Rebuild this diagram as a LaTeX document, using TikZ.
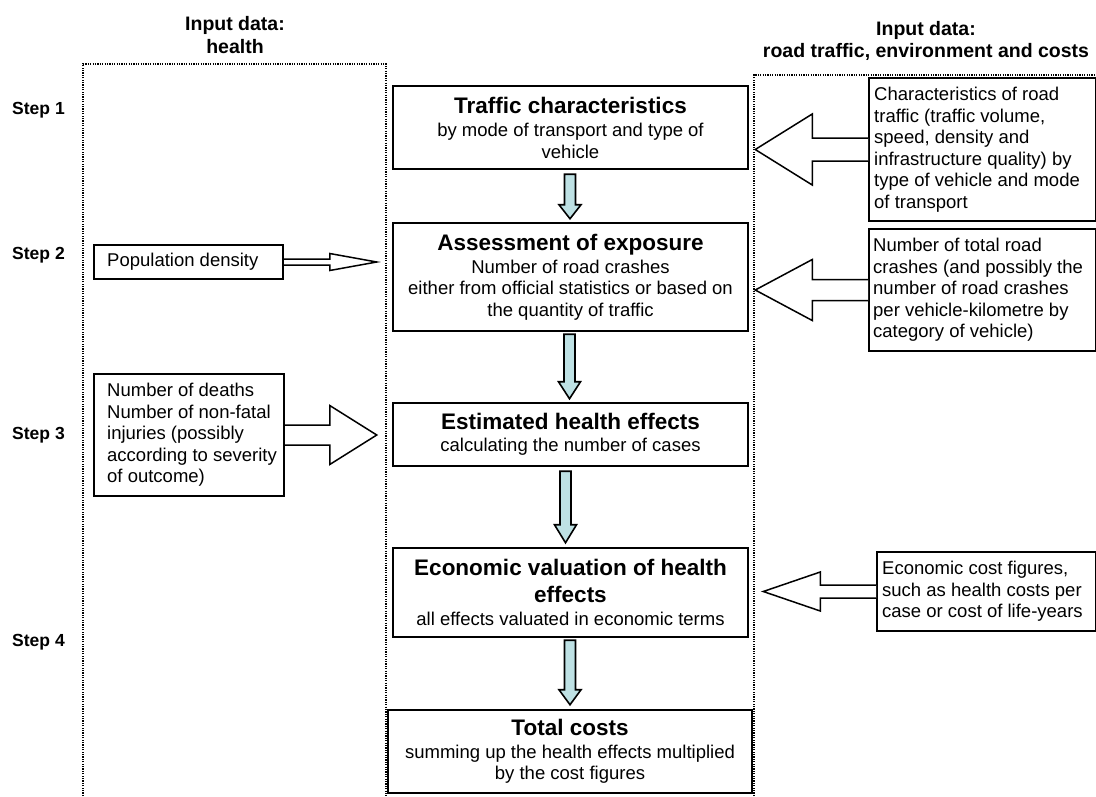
\documentclass[tikz,border=0pt]{standalone}
\usepackage{fontspec}
\setmainfont{Liberation Sans}
\usetikzlibrary{calc}
\definecolor{arrowblue}{RGB}{190,225,228}
\newcommand{\bodyfont}{\fontsize{18.5}{21.5}\selectfont}
\newcommand{\headfont}{\fontsize{22.5}{25}\selectfont\bfseries}
\newcommand{\titlefont}{\fontsize{19.5}{22.5}\selectfont\bfseries}
\newcommand{\stepfont}{\fontsize{17.5}{20}\selectfont\bfseries}
% hollow side arrow: #1 start, #2 tip, #3 shaft half, #4 head half, #5 signed head length
\newcommand{\hollowarrow}[5]{%
  \draw[harrowline] let \p1=#1, \p2=#2 in
    (\x1,\y2+#3) -- (\x2+#5,\y2+#3) -- (\x2+#5,\y2+#4) -- (\x2,\y2)
    -- (\x2+#5,\y2-#4) -- (\x2+#5,\y2-#3) -- (\x1,\y2-#3);}
% blue down arrow: #1 from anchor, #2 to anchor, #3 top gap, #4 tip gap, #5 head length, #6 x offset
\newcommand{\bluearrow}[6]{%
  \draw[barrowline] let \p1=#1, \p2=#2 in
    (\x1+#6-5.5pt,\y1-#3) -- (\x1+#6-5.5pt,\y2+#4+#5) -- (\x1+#6-11pt,\y2+#4+#5)
    -- (\x1+#6,\y2+#4) -- (\x1+#6+11pt,\y2+#4+#5) -- (\x1+#6+5.5pt,\y2+#4+#5)
    -- (\x1+#6+5.5pt,\y1-#3) -- cycle;}
\begin{document}
\begin{tikzpicture}[x=1pt,y=-1pt,
  cbox/.style={draw, fill=white, line width=2.5pt, align=center, inner sep=0pt,
    font=\bodyfont, minimum width=355pt},
  sidebox/.style={draw, fill=white, line width=2pt, inner sep=0pt, anchor=north west},
  sidetext/.style={align=left, inner sep=0pt, anchor=west, font=\bodyfont},
  title/.style={align=center, font=\titlefont, inner sep=0pt},
  steplabel/.style={font=\stepfont, inner sep=0pt},
  frame/.style={line width=1.4pt, dash pattern=on 1.2pt off 1.2pt},
  harrowline/.style={draw, fill=white, line width=1.5pt, line join=miter},
  barrowline/.style={draw, fill=arrowblue, line width=1.6pt, line join=miter}]
\useasboundingbox (0,0) rectangle (1096,796);

% dotted frames
\draw[frame] (83,796) -- (83,64) -- (386,64) -- (386,796);
\draw[frame] (754,796) -- (754,75) -- (1096,75);

% titles
\node[title] (t1) at (235,35) {Input data:\\health};
\node[title] (t2) at (926,41) {Input data:\\road traffic, environment and costs};

% steps
\node[steplabel] (s1) at (38.5,110) {Step 1};
\node[steplabel] (s2) at (38.5,255) {Step 2};
\node[steplabel] (s3) at (38.5,435) {Step 3};
\node[steplabel] (s4) at (38.5,642) {Step 4};

% central boxes
\node[cbox, minimum height=83pt] (b1) at (570.5,127.5)
  {{\headfont Traffic characteristics}\\[2pt]by mode of transport and type of\\vehicle};
\node[cbox, minimum height=108pt] (b2) at (570.5,277)
  {{\headfont Assessment of exposure}\\[1.5pt]Number of road crashes\\either from official statistics or based on\\the quantity of traffic};
\node[cbox, minimum height=63pt] (b3) at (570.5,434.5)
  {{\headfont Estimated health effects}\\[1pt]calculating the number of cases};
\node[cbox, minimum height=89pt] (b4) at (570.5,592.5)
  {{\headfont Economic valuation of health}\\[5.5pt]{\headfont effects}\\[1.5pt]all effects valuated in economic terms};
\node[cbox, minimum width=364pt, minimum height=83pt] (b5) at (570,751.5)
  {{\headfont Total costs}\\[1pt]summing up the health effects multiplied\\by the cost figures};

% right boxes
\node[sidebox, minimum width=227pt, minimum height=143pt] (r1) at (868,77) {};
\node[sidetext] (r1t) at ($(r1.west)+(6,0)$)
  {Characteristics of road\\traffic (traffic volume,\\speed, density and\\infrastructure quality) by\\type of vehicle and mode\\of transport};
\node[sidebox, minimum width=227pt, minimum height=122pt] (r2) at (868,228) {};
\node[sidetext] (r2t) at ($(r2.west)+(5,0)$)
  {Number of total road\\crashes (and possibly the\\number of road crashes\\per vehicle-kilometre by\\category of vehicle)};
\node[sidebox, minimum width=219pt, minimum height=79pt] (r3) at (876,551) {};
\node[sidetext] (r3t) at ($(r3.west)+(6,0)$)
  {Economic cost figures,\\such as health costs per\\case or cost of life-years};

% left boxes
\node[sidebox, minimum width=189pt, minimum height=34pt] (l1) at (93,244) {};
\node[sidetext] (l1t) at ($(l1.west)+(14,0)$) {Population density};
\node[sidebox, minimum width=190pt, minimum height=122pt] (l2) at (93,373) {};
\node[sidetext] (l2t) at ($(l2.west)+(14,0)$)
  {Number of deaths\\Number of non-fatal\\injuries (possibly\\according to severity\\of outcome)};

% hollow arrows
\hollowarrow{(r1.west)}{($(b1.east |- r1.west)+(6,0)$)}{11.5pt}{35.5pt}{57pt}
\hollowarrow{(r2.west)}{($(b2.east |- r2.west)+(6,0)$)}{10.5pt}{30.5pt}{57pt}
\hollowarrow{(r3.west)}{($(b4.east |- r3.west)+(14,0)$)}{6.5pt}{19.5pt}{57pt}
\hollowarrow{(l1.east)}{($(b2.west |- l1.east)+(-15,0)$)}{3pt}{8.5pt}{-47pt}
\hollowarrow{(l2.east)}{($(b3.west |- l2.east)+(-15,0)$)}{10pt}{29.5pt}{-47pt}

% blue arrows
\bluearrow{(b1.south)}{(b2.north)}{4pt}{3pt}{14pt}{-0.5pt}
\bluearrow{(b2.south)}{(b3.north)}{2pt}{3pt}{17pt}{-1pt}
\bluearrow{(b3.south)}{(b4.north)}{4pt}{4pt}{18pt}{-5pt}
\bluearrow{(b4.south)}{(b5.north)}{2pt}{4pt}{15pt}{-0.5pt}
\end{tikzpicture}
\end{document}
